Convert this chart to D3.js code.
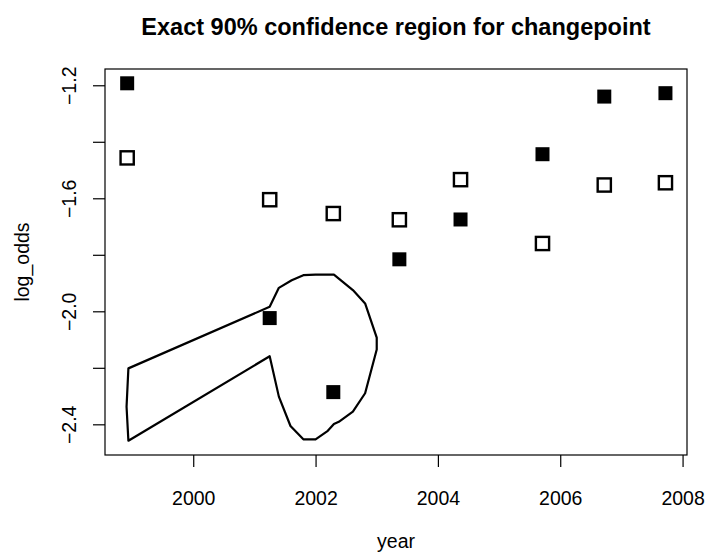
<!DOCTYPE html>
<html>
<head>
<meta charset="utf-8">
<style>
  body { margin: 0; background: #fff; }
  svg { font-family: "Liberation Sans", Arial, sans-serif; }
</style>
</head>
<body>
<svg id="chart"></svg>
<script src="https://d3js.org/d3.v7.min.js"></script>
<script>
  // observation years and the two log-odds series
  const years = [1998.92, 2001.25, 2002.29, 2003.37, 2004.37, 2005.71, 2006.72, 2007.72];
  const logOddsFilled = [-1.193, -2.024, -2.286, -1.816, -1.675, -1.444, -1.240, -1.228];
  const logOddsOpen = [-1.457, -1.605, -1.654, -1.676, -1.534, -1.760, -1.553, -1.545];

  // outline of the 90% confidence region (year, log odds)
  const regionYear = [1998.94, 1998.91, 1998.94, 2001.25, 2001.40, 2001.59, 2001.80, 2002.00,
                      2002.20, 2002.30, 2002.38, 2002.61, 2002.81, 2003.00, 2003.00, 2002.81,
                      2002.61, 2002.30, 2002.00, 2001.80, 2001.61, 2001.40, 2001.25];
  const regionLogOdds = [-2.202, -2.338, -2.458, -2.159, -2.302, -2.406, -2.453, -2.453,
                         -2.423, -2.399, -2.391, -2.355, -2.290, -2.135, -2.093, -1.972,
                         -1.925, -1.870, -1.870, -1.872, -1.890, -1.917, -1.984];

  const xTicks = [2000, 2002, 2004, 2006, 2008];
  const yTicks = [-2.4, -2.2, -2.0, -1.8, -1.6, -1.4, -1.2];
  const yLabelTicks = [-2.4, -2.0, -1.6, -1.2];

  const W = 706, H = 552;
  const margin = { top: 69, right: 19, bottom: 97, left: 105 };
  const width = W - margin.left - margin.right;
  const height = H - margin.top - margin.bottom;

  const root = d3.select('#chart').attr('width', W).attr('height', H);
  const svg = root.append('g').attr('transform', `translate(${margin.left},${margin.top})`);

  // R style range: data extent widened by 4% on each side
  function padded(values) {
    const [lo, hi] = d3.extent(values);
    const d = (hi - lo) * 0.04;
    return [lo - d, hi + d];
  }

  const xScale = d3.scaleLinear()
    .domain(padded(years.concat(regionYear)))
    .range([0, width]);
  const yScale = d3.scaleLinear()
    .domain(padded(logOddsFilled.concat(logOddsOpen, regionLogOdds)))
    .range([height, 0]);

  // region outline
  const region = regionYear.map((y, i) => [y, regionLogOdds[i]]);
  svg.append('path')
    .datum(region)
    .attr('fill', 'none')
    .attr('stroke', '#000')
    .attr('stroke-width', 2.2)
    .attr('stroke-linejoin', 'round')
    .attr('d', d3.line().x(d => xScale(d[0])).y(d => yScale(d[1])).curve(d3.curveLinearClosed));

  // open squares
  const so = 13.2;
  svg.selectAll('rect.open')
    .data(years.map((y, i) => ({ year: y, v: logOddsOpen[i] })))
    .enter()
    .append('rect')
    .attr('class', 'open')
    .attr('x', d => xScale(d.year) - so / 2)
    .attr('y', d => yScale(d.v) - so / 2)
    .attr('width', so).attr('height', so)
    .attr('fill', '#fff')
    .attr('stroke', '#000')
    .attr('stroke-width', 2.4);

  // filled squares
  const sf = 14;
  svg.selectAll('rect.filled')
    .data(years.map((y, i) => ({ year: y, v: logOddsFilled[i] })))
    .enter()
    .append('rect')
    .attr('class', 'filled')
    .attr('x', d => xScale(d.year) - sf / 2)
    .attr('y', d => yScale(d.v) - sf / 2)
    .attr('width', sf).attr('height', sf)
    .attr('fill', '#000');

  // box
  svg.append('rect')
    .attr('width', width).attr('height', height)
    .attr('fill', 'none').attr('stroke', '#000').attr('stroke-width', 1.2);

  // axes
  const fontSize = 19.5;
  const xAxis = svg.append('g')
    .attr('transform', `translate(0,${height})`)
    .call(d3.axisBottom(xScale).tickValues(xTicks).tickFormat(d3.format('d')).tickSize(12).tickSizeOuter(0));
  xAxis.select('.domain').remove();
  xAxis.selectAll('line').attr('stroke', '#000').attr('stroke-width', 1.2);
  xAxis.selectAll('text')
    .attr('y', 43).attr('dy', '0.35em')
    .attr('font-size', fontSize).attr('font-family', null).attr('fill', '#000');

  const yAxis = svg.append('g')
    .call(d3.axisLeft(yScale).tickValues(yTicks)
      .tickFormat(d => yLabelTicks.includes(d) ? d3.format('.1f')(d) : '')
      .tickSize(12).tickSizeOuter(0));
  yAxis.select('.domain').remove();
  yAxis.selectAll('line').attr('stroke', '#000').attr('stroke-width', 1.2);
  yAxis.selectAll('text')
    .attr('x', 0).attr('dy', '0.35em')
    .attr('transform', 'translate(-36,0) rotate(-90)')
    .attr('text-anchor', 'middle')
    .attr('font-size', fontSize).attr('font-family', null).attr('fill', '#000');

  // axis titles and main title
  root.append('text')
    .attr('x', margin.left + width / 2).attr('y', 541).attr('dy', '0.35em')
    .attr('text-anchor', 'middle').attr('font-size', fontSize)
    .text('year');
  root.append('text')
    .attr('transform', `translate(22,${margin.top + height / 2}) rotate(-90)`)
    .attr('dy', '0.35em')
    .attr('text-anchor', 'middle').attr('font-size', fontSize)
    .text('log_odds');
  root.append('text')
    .attr('x', margin.left + width / 2).attr('y', 27).attr('dy', '0.35em')
    .attr('text-anchor', 'middle').attr('font-size', 23.5).attr('font-weight', 'bold')
    .text('Exact 90% confidence region for changepoint');
</script>
</body>
</html>
